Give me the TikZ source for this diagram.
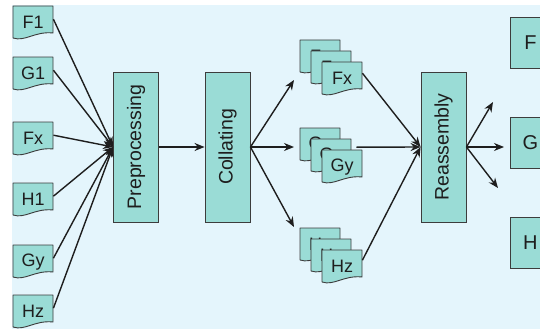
\documentclass[tikz,border=0pt]{standalone}
\usepackage{fontspec}
\setmainfont{Liberation Sans}
\usetikzlibrary{arrows.meta,calc}
\definecolor{bgblue}{RGB}{228,245,252}
\definecolor{boxfill}{RGB}{154,220,214}
\definecolor{edgegray}{RGB}{60,60,60}
\definecolor{ink}{RGB}{30,30,30}
\tikzset{
  docshape/.style={fill=boxfill, draw=edgegray, line width=0.9pt, line join=round},
  doctext/.style={minimum width=40pt, minimum height=33pt, inner sep=0pt, font=\fontsize{18}{18}\selectfont, text=ink},
  stage/.style={draw=edgegray, fill=boxfill, line width=0.9pt, minimum width=45pt, minimum height=150pt, inner sep=0pt, font=\fontsize{19.5}{19.5}\selectfont, text=ink},
  outbox/.style={draw=edgegray, fill=boxfill, line width=0.9pt, minimum width=40pt, minimum height=51pt, inner sep=0pt, font=\fontsize{20}{20}\selectfont, text=ink},
  arr/.style={draw=ink, line width=1.4pt, -{Stealth[length=10pt,width=8pt]}},
}
\newcommand\docat[4]{%
  \draw[docshape] (#2,#3) -- ({#2+40},#3) -- ({#2+40},{#3+27}) .. controls ({#2+22},{#3+25}) and ({#2+12},{#3+36}) .. (#2,{#3+32}) -- cycle;
  \node[doctext, anchor=north west] (#1) at (#2,#3) {#4};
}
\begin{document}
\begin{tikzpicture}[x=1pt,y=-1pt]
\useasboundingbox (0,0) rectangle (540,329);
\fill[bgblue] (12,5) rectangle (540,329);

% input documents
\docat{F1}{13}{6}{F1}
\docat{G1}{13}{57}{G1}
\docat{Fx}{13}{122}{Fx}
\docat{H1}{13}{183}{H1}
\docat{Gy}{13}{245}{Gy}
\docat{Hz}{13}{295}{Hz}

% stages
\node[stage] (pre) at (136,147) {\rotatebox{90}{Preprocessing}};
\node[stage] (col) at (227.5,147) {\rotatebox{90}{Collating}};
\node[stage] (re) at (443.5,147) {\rotatebox{90}{Reassembly}};

% stacks
\docat{fa}{300}{40}{Fx}
\docat{fb}{311}{51}{Fx}
\docat{fc}{322}{62}{Fx}
\docat{ga}{300}{128}{Gy}
\docat{gb}{311}{139}{Gy}
\docat{gc}{322}{150}{Gy}
\docat{ha}{300}{228}{Hz}
\docat{hb}{311}{239}{Hz}
\docat{hc}{322}{250}{Hz}

% outputs
\node[outbox, anchor=north west] (F) at (510,17) {F};
\node[outbox, anchor=north west] (G) at (510,117) {G};
\node[outbox, anchor=north west] (H) at (510,217) {H};

% free arrow ends
\coordinate (ta) at (294,80);
\coordinate (tb) at (294,147);
\coordinate (tc) at (294,227);
\coordinate (ua) at (493,102);
\coordinate (ub) at (504,147);
\coordinate (uc) at (498,188);

% connectors
\foreach \d in {F1,G1,Fx,H1,Gy,Hz}
  \draw[arr] ([yshift=3.5pt]\d.east) -- (pre.west);
\draw[arr] (pre) -- (col);
\draw[arr] (col.east) -- (ta);
\draw[arr] (col.east) -- (tb);
\draw[arr] (col.east) -- (tc);
\draw[arr] ([yshift=5.5pt]fc.east) -- (re.west);
\draw[arr] ([xshift=5pt,yshift=8.5pt]gb.east) -- (re.west);
\draw[arr] ([yshift=6.5pt]hc.east) -- (re.west);
\draw[arr] (re.east) -- (ua);
\draw[arr] (re.east) -- (ub);
\draw[arr] (re.east) -- (uc);
\end{tikzpicture}
\end{document}
